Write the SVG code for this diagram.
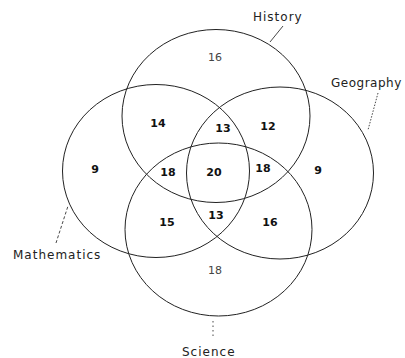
<svg xmlns="http://www.w3.org/2000/svg" width="405" height="358" viewBox="0 0 405 358">
<style>
.c{fill:none;stroke:#222;stroke-width:1}
.lbl{font-family:"DejaVu Sans",sans-serif;font-size:12px;fill:#222;letter-spacing:1px}
.n{font-family:"DejaVu Sans",sans-serif;font-size:11px;font-weight:bold;fill:#111;text-anchor:middle}
.nl{font-family:"DejaVu Sans",sans-serif;font-size:11px;fill:#444;text-anchor:middle}
.ld{fill:none;stroke:#333;stroke-width:0.9}
</style>
<rect width="405" height="358" fill="#fff"/>
<g id="history">
<ellipse class="c" cx="216" cy="116" rx="94" ry="86.5"/>
<text class="lbl" x="253" y="21">History</text>
</g>
<g id="mathematics">
<ellipse class="c" cx="156" cy="171" rx="93.5" ry="86.5"/>
<text class="lbl" x="13" y="259">Mathematics</text>
</g>
<g id="geography">
<ellipse class="c" cx="280" cy="173" rx="93.5" ry="86"/>
<text class="lbl" x="331" y="87" style="letter-spacing:0.5px">Geography</text>
</g>
<g id="science">
<ellipse class="c" cx="218.5" cy="229.5" rx="93.5" ry="86.5"/>
<text class="lbl" x="182" y="356">Science</text>
</g>
<g id="connectors">
<line class="ld" x1="283" y1="26" x2="270" y2="42"/>
<line class="ld" x1="378" y1="93" x2="368" y2="130" stroke-dasharray="1.5 1.5"/>
<line class="ld" x1="56" y1="243" x2="68" y2="206" stroke-dasharray="3 2"/>
<line class="ld" x1="213" y1="321" x2="213" y2="339" stroke-dasharray="1.5 3"/>
</g>
<g id="numbers">
<text class="nl" x="215" y="61">16</text>
<text class="n" x="158" y="127">14</text>
<text class="n" x="223" y="132">13</text>
<text class="n" x="268" y="130">12</text>
<text class="n" x="95" y="173">9</text>
<text class="n" x="168" y="176">18</text>
<text class="n" x="214" y="176">20</text>
<text class="n" x="263" y="172">18</text>
<text class="n" x="318" y="174">9</text>
<text class="n" x="167" y="226">15</text>
<text class="n" x="216" y="219">13</text>
<text class="n" x="270" y="226">16</text>
<text class="nl" x="215" y="274">18</text>
</g>
</svg>
